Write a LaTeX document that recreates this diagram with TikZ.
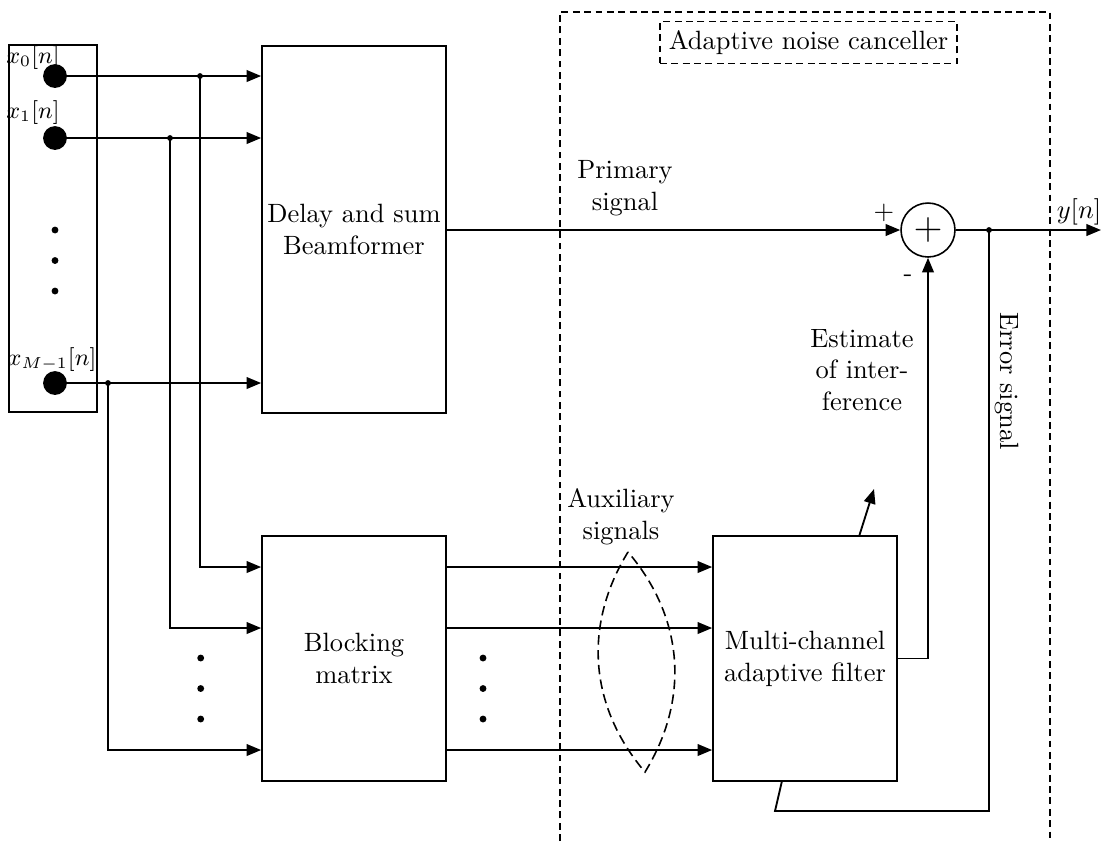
\documentclass[tikz,border=0pt]{standalone}
\usetikzlibrary{arrows.meta,positioning,calc}
\tikzset{
  >={Triangle[length=5.5pt,width=4.4pt]},
  blk/.style={draw,semithick,minimum width=69.6pt,minimum height=#1,align=center,inner sep=0pt},
  blk/.default=92.6pt,
  mic/.style={circle,fill,inner sep=0pt,minimum size=9pt},
  sig/.style={line width=0.7pt},
  sumnode/.style={circle,draw,semithick,inner sep=0pt,minimum size=20.4pt},
  lbl/.style={align=center,inner sep=0pt},
  frame/.style={draw,semithick,dash pattern=on 2.6pt off 1.7pt},
  lens/.style={semithick,dash pattern=on 3.6pt off 2pt},
}
\newcommand{\dotstack}[2]{%
  \foreach \d in {0,1,2} \fill (#1,#2+\d*30.5) circle (1.3pt);}

\begin{document}
\begin{tikzpicture}[x=0.378pt,y=-0.378pt]
  \useasboundingbox (0,0) rectangle (1103,841);
  % microphone array
  \node[draw,semithick,minimum width=33.3pt,minimum height=138.7pt] (array) at (53,228.5) {};
  \node[mic] (m0) at (55,76) {};
  \node[mic] (m1) at (55,138) {};
  \node[mic] (mM) at (55,383) {};
  \node[font=\small,inner sep=0pt] (lx0) at (33,58) {$x_0[n]$};
  \node[font=\small,inner sep=0pt] (lx1) at (33,113) {$x_1[n]$};
  \node[font=\small,inner sep=0pt] (lxM) at (52,360) {$x_{M-1}[n]$};
  \dotstack{55}{230}
  % blocks
  \node[blk=138.7pt] (dsb) at (354,229.5) {Delay and sum\\Beamformer};
  \node[blk] (bm) at (354,658.5) {Blocking\\matrix};
  \node[blk] (mcf) at (805,658.5) {Multi-channel\\adaptive filter};
  \node[sumnode] (sum) at (928,230) {\Large$+$};
  % inputs
  \draw[sig,->] (m0) -- (m0 -| dsb.west);
  \draw[sig,->] (m1) -- (m1 -| dsb.west);
  \draw[sig,->] (mM) -- (mM -| dsb.west);
  \coordinate (j0) at (m0 -| 200,0);
  \coordinate (j1) at (m1 -| 170,0);
  \coordinate (jM) at (mM -| 108,0);
  \foreach \j in {j0,j1,jM} \fill (\j) circle (1.1pt);
  \coordinate (b0) at (bm.west |- 0,567);
  \coordinate (b1) at (bm.west |- 0,628);
  \coordinate (bM) at (bm.west |- 0,750);
  \draw[sig,->] (j0) |- (b0);
  \draw[sig,->] (j1) |- (b1);
  \draw[sig,->] (jM) |- (bM);
  \dotstack{200.7}{658}
  % auxiliary signals
  \foreach \b in {b0,b1,bM} \draw[sig,->] (\b -| bm.east) -- (\b -| mcf.west);
  \dotstack{483}{658}
  \node[lbl] (aux) at (621,517) {Auxiliary\\signals};
  \coordinate (lt) at (628,552);
  \coordinate (lb) at (645,772);
  \draw[lens] (lt) to[bend right=36] (lb) to[bend right=36] (lt);
  % primary path and output
  \draw[sig,->] (dsb.east |- sum) -- (sum.west);
  \node[lbl] (prim) at (625,188) {Primary\\signal};
  \node[inner sep=0pt] (plus) at (884,213) {+};
  \node[inner sep=0pt] (minus) at (908,278) {-};
  \coordinate (jy) at (989,230);
  \coordinate (yout) at (1101,230);
  \draw[sig,->] (sum.east) -- (yout);
  \fill (jy) circle (1.1pt);
  \node[inner sep=0pt] (ylbl) at (1079,212) {$y[n]$};
  % interference estimate
  \draw[sig,->] (mcf.east) -| (sum.south);
  \node[lbl] (est) at (862,370) {Estimate\\of inter-\\ference};
  % error feedback
  \coordinate (fb) at (775,811);
  \draw[sig] (jy) |- (fb) -- ($(mcf.south west)!0.375!(mcf.south east)$);
  \coordinate (adapt) at (874,489);
  \draw[sig,->] ($(mcf.north west)!0.793!(mcf.north east)$) -- (adapt);
  \node[rotate=-90,inner sep=0pt] (err) at (1007,381) {Error signal};
  % noise canceller frame
  \draw[frame] (560,841) -- (560,12) -- (1050,12) -- (1050,841);
  \node[frame] (anc) at (808.5,42.5) {Adaptive noise canceller};
\end{tikzpicture}
\end{document}
